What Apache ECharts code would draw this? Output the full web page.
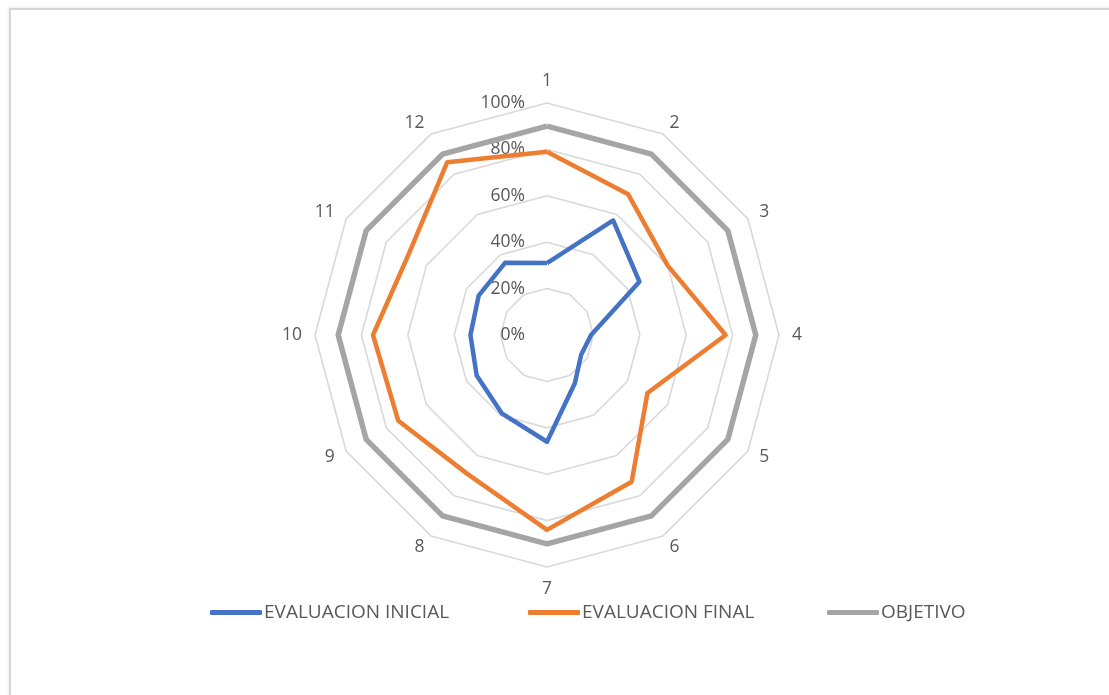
<!DOCTYPE html>
<html>
<head>
<meta charset="utf-8">
<script src="https://cdn.jsdelivr.net/npm/echarts@6/dist/echarts.min.js"></script>
<style>
  html, body { margin: 0; padding: 0; background: #fff; }
  #frame {
    position: absolute; left: 9px; top: 8px; width: 1120px; height: 700px;
    border-top: 2px solid #d6d6d6; border-left: 2px solid #d6d6d6;
    box-shadow: -1px -1px 3px rgba(0,0,0,0.08);
  }
  #chart { position: absolute; left: 0; top: 0; width: 1109px; height: 695px; }
</style>
</head>
<body>
<div id="frame"></div>
<div id="chart"></div>
<script>
// categorias (ejes)
var categorias = ['1','2','3','4','5','6','7','8','9','10','11','12'];
// valores en %
var evalInicial = [31, 57, 46, 19, 17, 24, 46, 39, 35, 33, 34, 36];
var evalFinal   = [79, 70, 60, 77, 50, 73, 84, 69, 74, 75, 69, 86];
var objetivo    = [90, 90, 90, 90, 90, 90, 90, 90, 90, 90, 90, 90];
var nombres = ['EVALUACION INICIAL', 'EVALUACION FINAL', 'OBJETIVO'];
var colores = ['#4472C4', '#ED7D31', '#A5A5A5'];

// el radar de echarts va en sentido antihorario: 1, 12, 11, ... 2 para verlo horario
function horario(arr) {
    return [arr[0]].concat(arr.slice(1).reverse());
}

var chart = echarts.init(document.getElementById('chart'));

var etiqueta = { color: '#595959', fontSize: 17.5, fontFamily: 'Open Sans', margin: 22 };

var indicadores = horario(categorias).map(function (c, i) {
    var ind = { name: c, min: 0, max: 100 };
    if (i === 0) {
        ind.axisLabel = Object.assign({ show: true, formatter: '{value}%' }, etiqueta);
    }
    return ind;
});

function leyenda(i, left) {
    return {
        data: [nombres[i]], left: left, top: 598,
        icon: 'roundRect', itemWidth: 52, itemHeight: 5, itemGap: 2,
        textStyle: { color: '#595959', fontSize: 19, fontFamily: 'Open Sans', padding: [0, 0, 0, -3] }
    };
}

var option = {
    animation: false,
    backgroundColor: 'transparent',
    legend: [leyenda(0, 205), leyenda(1, 523), leyenda(2, 822)],
    radar: {
        center: [547, 335],
        radius: 232,
        startAngle: 90,
        splitNumber: 5,
        shape: 'polygon',
        indicator: indicadores,
        nameGap: 13,
        axisName: { color: '#595959', fontSize: 17.5, fontFamily: 'Open Sans' },
        axisLine: { show: false },
        axisTick: { show: false },
        axisLabel: Object.assign({ show: false }, etiqueta),
        splitArea: { show: false },
        splitLine: { lineStyle: { color: '#d9d9d9', width: 1.6 } }
    },
    series: [{
        type: 'radar',
        symbol: 'none',
        data: [
            { name: nombres[0], value: horario(evalInicial), lineStyle: { color: colores[0], width: 4.5 }, itemStyle: { color: colores[0] } },
            { name: nombres[1], value: horario(evalFinal), lineStyle: { color: colores[1], width: 4.5 }, itemStyle: { color: colores[1] } },
            { name: nombres[2], value: horario(objetivo), lineStyle: { color: colores[2], width: 5.5 }, itemStyle: { color: colores[2] } }
        ]
    }]
};
chart.setOption(option);
</script>
</body>
</html>
